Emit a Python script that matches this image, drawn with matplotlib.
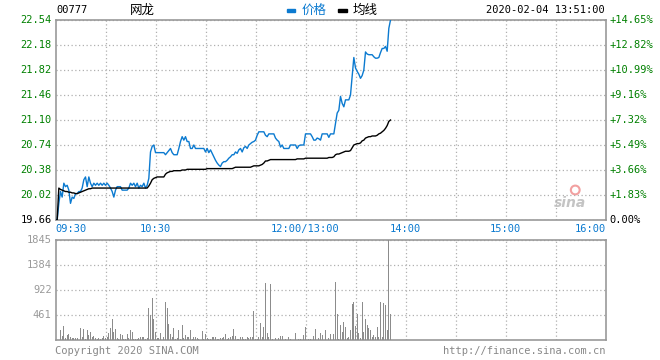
"""Intraday minute chart for 00777 (NetDragon), 2020-02-04."""

import matplotlib
matplotlib.use("Agg")
import matplotlib.pyplot as plt

TITLE_CODE = "00777"
TITLE_NAME = "网龙"
STAMP = "2020-02-04 13:51:00"

PREV_CLOSE = 19.66
PRICE_TICKS = [19.66, 20.02, 20.38, 20.74, 21.10, 21.46, 21.82, 22.18, 22.54]
PCT_LABELS = ["0.00%", "+1.83%", "+3.66%", "+5.49%", "+7.32%",
              "+9.16%", "+10.99%", "+12.82%", "+14.65%"]
VOL_TICKS = [461, 922, 1384, 1845]
TIME_POS = [0, 60, 150, 210, 270, 330]
TIME_LABELS = ["09:30", "10:30", "12:00/13:00", "14:00", "15:00", "16:00"]

# one value per trading minute from 09:30 (HK session, lunch break removed)
PRICE = [
    19.66, 19.66, 19.90, 20.07, 19.99, 20.19, 20.14, 20.16, 20.09, 19.90,
    19.99, 19.97, 20.04, 20.04, 20.07, 20.07, 20.12, 20.24, 20.28, 20.14,
    20.28, 20.19, 20.14, 20.19, 20.16, 20.19, 20.16, 20.19, 20.16, 20.19,
    20.16, 20.19, 20.16, 20.12, 20.07, 19.99, 20.09, 20.14, 20.14, 20.14,
    20.09, 20.09, 20.09, 20.09, 20.12, 20.19, 20.16, 20.19, 20.14, 20.19,
    20.12, 20.16, 20.14, 20.19, 20.12, 20.16, 20.26, 20.64, 20.72, 20.74,
    20.63, 20.63, 20.63, 20.63, 20.63, 20.63, 20.60, 20.63, 20.66, 20.69,
    20.63, 20.60, 20.60, 20.60, 20.69, 20.79, 20.86, 20.81, 20.86, 20.79,
    20.79, 20.69, 20.69, 20.74, 20.69, 20.69, 20.69, 20.69, 20.69, 20.69,
    20.64, 20.69, 20.63, 20.67, 20.62, 20.57, 20.52, 20.48, 20.45, 20.43,
    20.48, 20.50, 20.50, 20.52, 20.55, 20.57, 20.60, 20.60, 20.64, 20.62,
    20.67, 20.69, 20.64, 20.70, 20.72, 20.69, 20.74, 20.76, 20.78, 20.79,
    20.81, 20.88, 20.93, 20.93, 20.93, 20.93, 20.88, 20.86, 20.90, 20.90,
    20.90, 20.90, 20.84, 20.81, 20.79, 20.71, 20.74, 20.69, 20.69, 20.69,
    20.69, 20.74, 20.74, 20.74, 20.74, 20.69, 20.73, 20.74, 20.74, 20.74,
    20.90, 20.90, 20.90, 20.90, 20.86, 20.81, 20.81, 20.84, 20.83, 20.81,
    20.90, 20.90, 20.90, 20.90, 20.85, 20.90, 20.90, 20.90, 21.05, 21.20,
    21.24, 21.44, 21.34, 21.29, 21.39, 21.39, 21.39, 21.46, 21.73, 22.00,
    21.85, 21.80, 21.76, 21.70, 21.74, 21.82, 22.08, 22.05, 22.04, 22.04,
    22.04, 22.01, 21.99, 21.99, 22.00, 22.07, 22.13, 22.13, 22.16, 22.09,
    22.42, 22.54,
]

AVG = [
    19.66, 19.66, 20.12, 20.10, 20.09, 20.08, 20.07, 20.07, 20.06, 20.06,
    20.05, 20.05, 20.04, 20.04, 20.05, 20.06, 20.07, 20.08, 20.09, 20.10,
    20.11, 20.11, 20.12, 20.12, 20.12, 20.12, 20.12, 20.12, 20.12, 20.12,
    20.12, 20.12, 20.12, 20.12, 20.12, 20.12, 20.12, 20.12, 20.12, 20.12,
    20.12, 20.12, 20.12, 20.12, 20.12, 20.12, 20.12, 20.12, 20.12, 20.12,
    20.12, 20.12, 20.12, 20.12, 20.12, 20.12, 20.15, 20.19, 20.24, 20.26,
    20.27, 20.28, 20.28, 20.28, 20.28, 20.28, 20.32, 20.34, 20.35, 20.36,
    20.36, 20.37, 20.37, 20.37, 20.37, 20.37, 20.38, 20.38, 20.38, 20.39,
    20.39, 20.39, 20.39, 20.39, 20.39, 20.39, 20.39, 20.39, 20.39, 20.39,
    20.39, 20.40, 20.40, 20.40, 20.40, 20.40, 20.40, 20.40, 20.40, 20.40,
    20.40, 20.40, 20.40, 20.40, 20.40, 20.40, 20.40, 20.41, 20.42, 20.42,
    20.42, 20.42, 20.42, 20.42, 20.42, 20.42, 20.42, 20.42, 20.43, 20.44,
    20.44, 20.44, 20.44, 20.45, 20.46, 20.48, 20.51, 20.51, 20.52, 20.53,
    20.53, 20.53, 20.53, 20.53, 20.53, 20.53, 20.53, 20.53, 20.53, 20.53,
    20.53, 20.53, 20.53, 20.53, 20.53, 20.54, 20.54, 20.54, 20.54, 20.54,
    20.55, 20.55, 20.55, 20.55, 20.55, 20.55, 20.55, 20.55, 20.55, 20.55,
    20.55, 20.55, 20.55, 20.55, 20.56, 20.56, 20.56, 20.57, 20.60, 20.61,
    20.61, 20.62, 20.63, 20.64, 20.65, 20.65, 20.65, 20.66, 20.70, 20.74,
    20.75, 20.76, 20.76, 20.77, 20.80, 20.81, 20.84, 20.85, 20.86, 20.86,
    20.87, 20.87, 20.87, 20.88, 20.90, 20.91, 20.93, 20.95, 20.98, 21.02,
    21.08, 21.10,
]

VOLUME = [
    0, 0, 0, 185, 74, 258, 31, 92, 111, 49,
    31, 43, 43, 31, 0, 228, 61, 203, 12, 185,
    92, 141, 49, 74, 31, 18, 43, 18, 31, 74,
    31, 61, 123, 228, 387, 141, 203, 31, 18, 105,
    92, 18, 12, 111, 31, 185, 141, 25, 12, 18,
    31, 55, 49, 61, 18, 31, 584, 461, 769, 387,
    141, 31, 43, 135, 0, 61, 707, 584, 295, 111,
    49, 215, 12, 43, 185, 12, 277, 31, 92, 61,
    49, 185, 12, 49, 49, 31, 25, 0, 166, 12,
    111, 31, 12, 12, 61, 49, 61, 12, 18, 31,
    31, 49, 111, 12, 43, 49, 74, 197, 74, 25,
    25, 49, 49, 25, 12, 49, 31, 49, 49, 535,
    12, 12, 49, 320, 49, 246, 1045, 135, 49, 1027,
    25, 0, 43, 0, 43, 74, 74, 0, 18, 0,
    55, 18, 0, 0, 123, 0, 18, 18, 0, 92,
    240, 0, 18, 18, 0, 74, 203, 0, 43, 123,
    92, 0, 185, 0, 43, 111, 0, 111, 1064, 474,
    18, 277, 154, 332, 240, 31, 61, 185, 664, 701,
    258, 474, 123, 31, 701, 154, 381, 277, 215, 185,
    61, 92, 49, 246, 49, 701, 49, 676, 640, 185,
    1845, 474,
]

W, H = 660, 360
BLUE = "#0b7ad0"
GREEN = "#008000"
FRAME = "#999999"
GRID = "#b0b0b0"
MONO = "DejaVu Sans Mono"
CJK = ["Noto Sans CJK SC", "DejaVu Sans"]


def px(x, y):
    return x / W, 1 - y / H


def style_axes(ax):
    for sp in ax.spines.values():
        sp.set_color(FRAME)
        sp.set_linewidth(1.2)
    ax.tick_params(length=0, labelleft=False, labelbottom=False)
    ax.set_xticks(range(30, 330, 30))
    ax.grid(True, color=GRID, linestyle=(0, (1, 2)), linewidth=0.9)
    ax.set_xlim(0, 330)


def main():
    fig = plt.figure(figsize=(W / 100, H / 100), dpi=100)
    fig.patch.set_facecolor("white")

    ax = fig.add_axes([55.5 / W, 1 - 220 / H, 550 / W, 200 / H])
    axv = fig.add_axes([55.5 / W, 1 - 340 / H, 550 / W, 100 / H])

    minutes = list(range(len(PRICE)))

    # price panel
    style_axes(ax)
    ax.set_ylim(PRICE_TICKS[0], PRICE_TICKS[-1])
    ax.set_yticks(PRICE_TICKS)
    ax.plot(minutes, PRICE, color=BLUE, linewidth=1.0, zorder=3)
    ax.plot(minutes, AVG, color="black", linewidth=1.0, zorder=4)

    ty = ax.get_yaxis_transform()
    for val, pct in zip(PRICE_TICKS, PCT_LABELS):
        col = "black" if val == PREV_CLOSE else GREEN
        ax.text(-0.007, val, f"{val:.2f}", transform=ty, ha="right",
                va="center", fontsize=7.5, family=MONO, color=col)
        ax.text(1.007, val, pct, transform=ty, ha="left",
                va="center", fontsize=7.5, family=MONO, color=col)

    # sina watermark
    ax.text(0.965, 0.05, "sina", transform=ax.transAxes, ha="right",
            va="bottom", fontsize=10, fontweight="bold", style="italic",
            color="#c4c4c4", zorder=1)
    ax.scatter([0.945], [0.15], s=40, transform=ax.transAxes,
               facecolors="none", edgecolors="#f2a0a0", linewidths=1.5,
               zorder=1)

    # time labels under the price panel
    tx = ax.get_xaxis_transform()
    for pos, lab in zip(TIME_POS, TIME_LABELS):
        ha = "left" if pos == 0 else ("right" if pos == 330 else "center")
        ax.text(pos, -0.02, lab, transform=tx, ha=ha, va="top",
                fontsize=7.5, family=MONO, color=BLUE)

    # volume panel
    style_axes(axv)
    axv.set_ylim(0, VOL_TICKS[-1])
    axv.set_yticks(VOL_TICKS)
    axv.bar(minutes, VOLUME, width=0.6, color="#8c8c8c", linewidth=0,
            antialiased=False, zorder=3)
    vy = axv.get_yaxis_transform()
    for v in VOL_TICKS:
        axv.text(-0.007, v, str(v), transform=vy, ha="right", va="center",
                 fontsize=7.5, family=MONO, color="#999999")

    # header
    fig.text(*px(56, 10), TITLE_CODE, fontsize=7.5, family=MONO,
             va="center", ha="left")
    fig.text(*px(130, 10), TITLE_NAME, fontsize=9, family=CJK,
             va="center", ha="left")
    fig.patches.append(plt.Rectangle(px(287, 12), 8 / W, 3 / H,
                                     color=BLUE, transform=fig.transFigure))
    fig.text(*px(302, 10), "价格", fontsize=9, color=BLUE, family=CJK,
             va="center", ha="left")
    fig.patches.append(plt.Rectangle(px(338, 12), 9 / W, 3 / H,
                                     color="black",
                                     transform=fig.transFigure))
    fig.text(*px(353, 10), "均线", fontsize=9, family=CJK,
             va="center", ha="left")
    fig.text(*px(605, 10), STAMP, fontsize=7.5, family=MONO,
             va="center", ha="right")

    # footer
    fig.text(*px(55, 351), "Copyright 2020 SINA.COM", fontsize=7.5,
             family=MONO, color="#888888", va="center", ha="left")
    fig.text(*px(606, 351), "http://finance.sina.com.cn", fontsize=7.5,
             family=MONO, color="#888888", va="center", ha="right")

    fig.savefig("out.png", dpi=100)


if __name__ == "__main__":
    main()
